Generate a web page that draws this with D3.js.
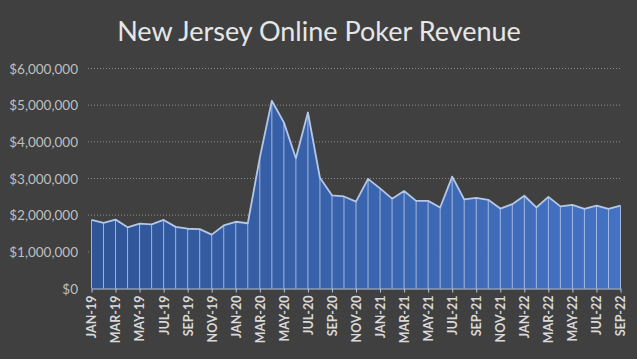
<!DOCTYPE html>
<html><head><meta charset="utf-8">
<script src="https://cdn.jsdelivr.net/npm/d3@7"></script>
<style>html,body{margin:0;padding:0;background:#404040;}svg{display:block;}</style>
</head><body>
<script>
const months = ["JAN","FEB","MAR","APR","MAY","JUN","JUL","AUG","SEP","OCT","NOV","DEC"];
const years = ["19","20","21","22"];
const categories = [];
years.forEach(y => months.forEach(m => categories.push(m + "-" + y)));
categories.splice(45);
const revenue = [
  1.87,1.79,1.88,1.67,1.77,1.75,1.87,1.68,1.63,1.62,1.47,1.72,
  1.82,1.78,3.57,5.12,4.53,3.55,4.80,3.02,2.54,2.51,2.37,2.99,
  2.73,2.45,2.66,2.39,2.39,2.21,3.05,2.43,2.47,2.42,2.18,2.30,
  2.53,2.21,2.50,2.24,2.28,2.17,2.26,2.17,2.26
].map(v => v * 1e6);
const yTicks = [0,1e6,2e6,3e6,4e6,5e6,6e6];
const title = "New Jersey Online Poker Revenue";

const W = 637, H = 359;
const svg = d3.select("body").append("svg").attr("width", W).attr("height", H);
svg.append("rect").attr("width", W).attr("height", H).attr("fill", "#404040");

const x = d3.scalePoint().domain(categories).range([91.5, 620.5]);
const y = d3.scaleLinear().domain([0, 6e6]).range([288.5, 68.5]);

const defs = svg.append("defs");
const grad = defs.append("linearGradient").attr("id","g").attr("x1","0").attr("x2","1").attr("y1","0").attr("y2","0");
grad.append("stop").attr("offset","0").attr("stop-color","#2f5597");
grad.append("stop").attr("offset","1").attr("stop-color","#4472c4");

svg.append("text").attr("x", 319).attr("y", 41).attr("text-anchor","middle")
  .attr("font-family","Lato, 'Open Sans', sans-serif").attr("font-size", 27)
  .attr("fill","#e6e6e6").text(title);

// gridlines
svg.append("g").selectAll("line").data(yTicks.filter(d => d > 0)).join("line")
  .attr("x1", 88).attr("x2", 622).attr("y1", d => y(d)).attr("y2", d => y(d))
  .attr("stroke","#8c8c8c").attr("stroke-width",1).attr("stroke-dasharray","1,2");

// y labels
svg.append("g").selectAll("text").data(yTicks).join("text")
  .attr("x", 78).attr("y", d => y(d) + 5).attr("text-anchor","end")
  .attr("font-family","Lato, 'Open Sans', sans-serif").attr("font-size", 13.5)
  .attr("fill","#bfbfbf").text(d => d3.format("$,")(d));

const data = categories.map((c,i) => ({c, v: revenue[i]}));
const area = d3.area().x(d => x(d.c)).y0(y(0)).y1(d => y(d.v));
svg.append("path").datum(data).attr("d", area).attr("fill","url(#g)");

// vertical dividers
svg.append("g").selectAll("line").data(data).join("line")
  .attr("x1", d => x(d.c)).attr("x2", d => x(d.c))
  .attr("y1", d => y(d.v)).attr("y2", y(0))
  .attr("stroke","#b4c7e7").attr("stroke-opacity",0.85).attr("stroke-width",1);

const line = d3.line().x(d => x(d.c)).y(d => y(d.v));
svg.append("path").datum(data).attr("d", line).attr("fill","none")
  .attr("stroke","#b4c7e7").attr("stroke-width",1.8).attr("stroke-linejoin","round");

// x axis
const shown = categories.filter((c,i) => i % 2 === 0);
const xAxis = d3.axisBottom(x).tickValues(shown).tickSize(4).tickSizeOuter(0);
const gx = svg.append("g").attr("transform", `translate(0,${y(0)})`).call(xAxis);
gx.select(".domain").attr("stroke","#b4c7e7").attr("stroke-width",1.2);
gx.selectAll(".tick line").attr("stroke","#b4c7e7");
gx.selectAll(".tick text")
  .attr("transform","rotate(-90)").attr("text-anchor","end")
  .attr("x", -7).attr("y", 0).attr("dy","0.35em")
  .attr("font-family","Lato, 'Open Sans', sans-serif").attr("font-size", 12.5).attr("font-weight","bold")
  .attr("fill","#d9d9d9");
</script>
</body></html>
